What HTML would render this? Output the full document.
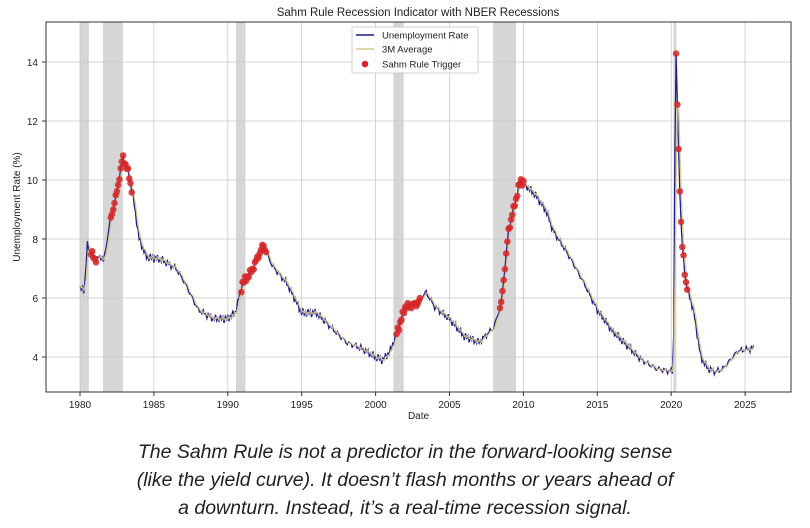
<!DOCTYPE html>
<html><head><meta charset="utf-8"><style>
body{margin:0;background:#fff;width:810px;height:528px;overflow:hidden;font-family:"Liberation Sans",sans-serif}
.cap{position:absolute;left:0;width:810px;text-align:center;font-style:italic;font-size:19.5px;color:#222}
</style></head><body>
<svg id="s" width="810" height="425" style="position:absolute;left:0;top:0" font-family="Liberation Sans, sans-serif"></svg>
<div class="cap" style="top:441px">The Sahm Rule is not a predictor in the forward-looking sense</div>
<div class="cap" style="top:469px">(like the yield curve). It doesn’t flash months or years ahead of</div>
<div class="cap" style="top:497px">a downturn. Instead, it’s a real-time recession signal.</div>
<script>
const X=y=>80+(y-1980)*14.78, Y=v=>62+(14-v)*29.5;
let h='';
const L=46,R=791,T=22,B=392;
[[1980,1980.6],[1981.55,1982.9],[1990.55,1991.2],[2001.2,2001.9],[2007.95,2009.5],[2020.15,2020.35]].forEach(r=>{h+=`<rect x="${X(r[0])}" y="${T}" width="${X(r[1])-X(r[0])}" height="${B-T}" fill="#d6d6d6"/>`});
for(let y=1980;y<=2025;y+=5){h+=`<line x1="${X(y)}" x2="${X(y)}" y1="${T}" y2="${B}" stroke="#c8c8c8" stroke-width="0.8"/><line x1="${X(y)}" x2="${X(y)}" y1="${B}" y2="${B+4}" stroke="#333"/><text x="${X(y)}" y="${B+16}" font-size="10" text-anchor="middle" fill="#222">${y}</text>`}
for(let v=4;v<=14;v+=2){h+=`<line x1="${L}" x2="${R}" y1="${Y(v)}" y2="${Y(v)}" stroke="#c8c8c8" stroke-width="0.8"/><line x1="${L-4}" x2="${L}" y1="${Y(v)}" y2="${Y(v)}" stroke="#333"/><text x="${L-8}" y="${Y(v)+4}" font-size="10" text-anchor="end" fill="#222">${v}</text>`}
const K=[[1980,6.3],[1980.3,6.3],[1980.5,7.8],[1980.8,7.5],[1981,7.3],[1981.5,7.4],[1981.6,7.2],[1982,8.5],[1982.5,9.6],[1982.9,10.8],[1983.3,10.2],[1983.6,9.4],[1984,8],[1984.5,7.4],[1985.5,7.3],[1986.5,7],[1987,6.6],[1988,5.6],[1989,5.3],[1990,5.3],[1990.5,5.5],[1991,6.5],[1991.6,6.9],[1992.4,7.8],[1993,7.1],[1994,6.5],[1995,5.5],[1996,5.5],[1997,5],[1998,4.5],[1999,4.3],[2000,4],[2000.5,3.9],[2001,4.2],[2001.7,5.2],[2002,5.7],[2002.8,5.8],[2003.4,6.2],[2004,5.7],[2005,5.3],[2006,4.7],[2007,4.5],[2008,5],[2008.5,5.8],[2009,8.3],[2009.8,10],[2010.8,9.5],[2011.5,9],[2012,8.3],[2013,7.5],[2014,6.6],[2015,5.6],[2016,4.9],[2017,4.4],[2018,3.9],[2019,3.6],[2020.15,3.5],[2020.3,14.8],[2020.5,11],[2020.7,8],[2021,6.5],[2021.5,5.6],[2022,4],[2022.5,3.6],[2023,3.5],[2023.5,3.6],[2024,3.9],[2024.5,4.2],[2025.6,4.3]];
function f(t){for(let i=1;i<K.length;i++)if(t<=K[i][0]){const a=K[i-1],b=K[i];return a[1]+(b[1]-a[1])*(t-a[0])/(b[0]-a[0])}return 4.3}
let pts=[],avg=[];
for(let t=1980;t<=2025.6;t+=1/12){const n=(Math.sin(t*37.1)*0.09+Math.sin(t*91.3)*0.06);pts.push([t,f(t)+n]);}
for(let i=0;i<pts.length;i++){let s=0,c=0;for(let j=Math.max(0,i-2);j<=i;j++){s+=pts[j][1];c++}avg.push([pts[i][0],s/c])}
const P=a=>a.map(p=>X(p[0]).toFixed(1)+','+Y(p[1]).toFixed(1)).join(' ');
h+=`<polyline points="${P(pts)}" fill="none" stroke="#1f1f8a" stroke-width="1.3"/>`;
h+=`<polyline points="${P(avg)}" fill="none" stroke="#d8c88a" stroke-width="1.3" opacity="0.9"/>`;
const trig=[[1980.7,1981.1],[1982,1983.5],[1990.9,1992.6],[2001.4,2003],[2008.4,2010],[2020.3,2021.1]];
pts.forEach((p,i)=>{if(trig.some(r=>p[0]>=r[0]&&p[0]<=r[1]))h+=`<circle cx="${X(p[0])}" cy="${Y(p[1])}" r="3.3" fill="#d62728" opacity="0.85"/>`});
h+=`<rect x="${L}" y="${T}" width="${R-L}" height="${B-T}" fill="none" stroke="#333" stroke-width="1"/>`;
h+=`<text x="418" y="16" font-size="11.5" text-anchor="middle" fill="#222">Sahm Rule Recession Indicator with NBER Recessions</text>`;
h+=`<text x="${(L+R)/2}" y="419" font-size="10" text-anchor="middle" fill="#222">Date</text>`;
h+=`<text transform="translate(20,207) rotate(-90)" font-size="10" text-anchor="middle" fill="#222">Unemployment Rate (%)</text>`;
h+=`<rect x="352" y="27" width="126" height="46" fill="#fff" stroke="#ccc" opacity="0.9"/>`;
h+=`<line x1="356" x2="374" y1="35" y2="35" stroke="#1f1f8a" stroke-width="1.5"/><text x="382" y="38.5" font-size="9.5" fill="#222">Unemployment Rate</text>`;
h+=`<line x1="356" x2="374" y1="49" y2="49" stroke="#d8c88a" stroke-width="1.5"/><text x="382" y="52.5" font-size="9.5" fill="#222">3M Average</text>`;
h+=`<circle cx="365" cy="64" r="3.3" fill="#d62728"/><text x="382" y="67.5" font-size="9.5" fill="#222">Sahm Rule Trigger</text>`;
document.getElementById('s').innerHTML=h;
</script>
</body></html>
